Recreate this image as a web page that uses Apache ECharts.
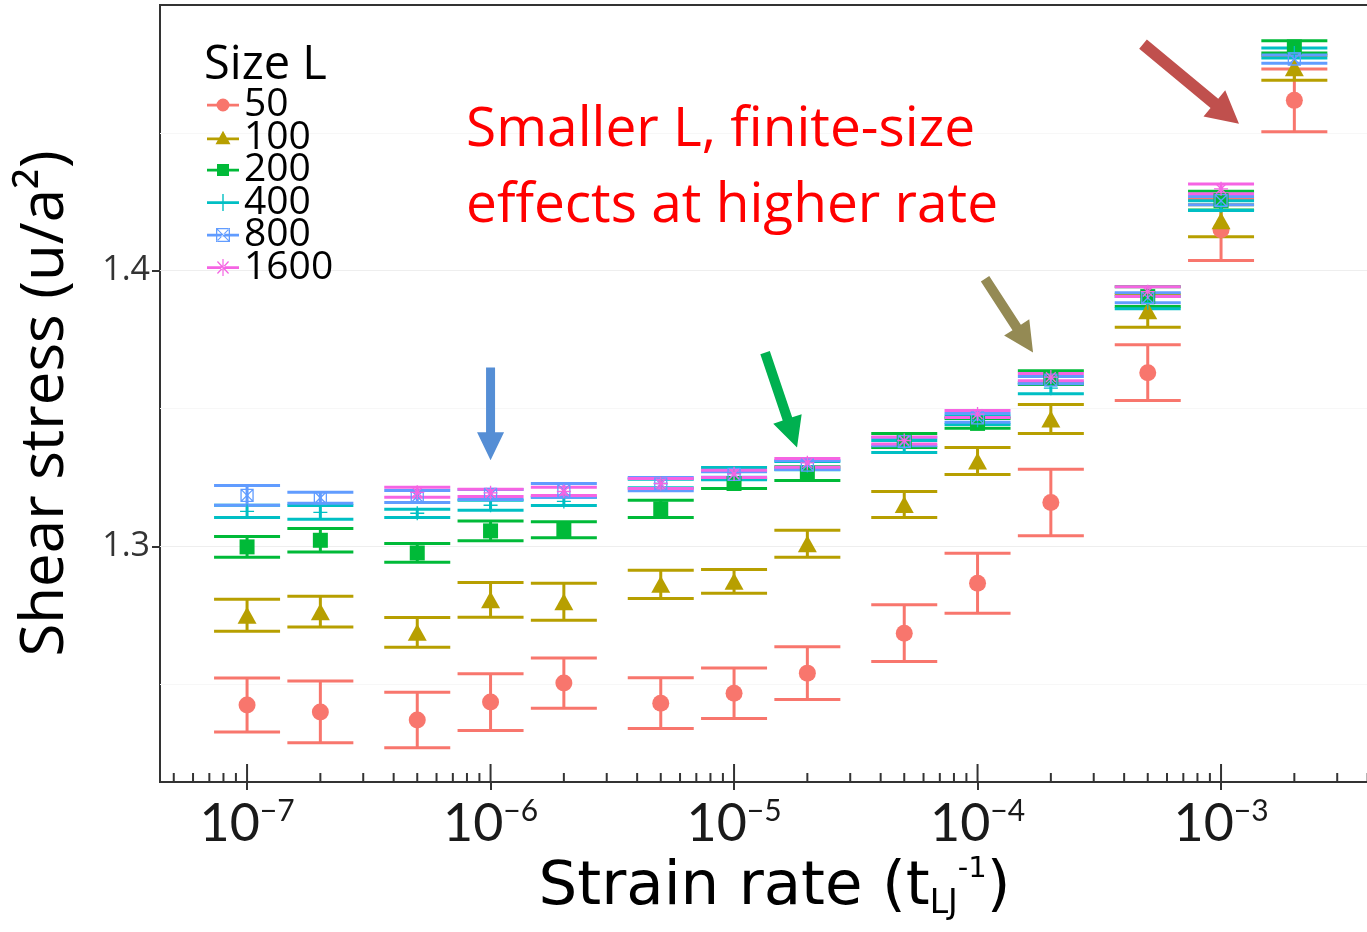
<!DOCTYPE html>
<html><head><meta charset="utf-8">
<script src="https://cdn.jsdelivr.net/npm/echarts@6/dist/echarts.min.js"></script>
<style>html,body{margin:0;padding:0;background:#fff}#c{width:1367px;height:932px}</style>
</head><body><div id="c"></div><script>
// ---- data ----
const rates = [1e-7, 2e-7, 5e-7, 1e-6, 2e-6, 5e-6, 1e-5, 2e-5, 5e-5, 1e-4, 2e-4, 5e-4, 1e-3, 2e-3];
const sizes = ['50', '100', '200', '400', '800', '1600'];
const stress50  = [1.2424, 1.2399, 1.2370, 1.2435, 1.2504, 1.2431, 1.2467, 1.2540, 1.2685, 1.2866, 1.3159, 1.3630, 1.4149, 1.4618];
const err50     = [0.0098, 0.0112, 0.0101, 0.0103, 0.0091, 0.0092, 0.0092, 0.0096, 0.0103, 0.0109, 0.0121, 0.0101, 0.0112, 0.0114];
const stress100 = [1.2750, 1.2763, 1.2688, 1.2806, 1.2799, 1.2862, 1.2873, 1.3009, 1.3152, 1.3310, 1.3462, 1.3855, 1.4181, 1.4736];
const err100    = [0.0058, 0.0056, 0.0054, 0.0063, 0.0067, 0.0051, 0.0043, 0.0049, 0.0047, 0.0049, 0.0053, 0.0060, 0.0058, 0.0045];
const stress200 = [1.2998, 1.3022, 1.2976, 1.3056, 1.3060, 1.3136, 1.3228, 1.3264, 1.3384, 1.3446, 1.3612, 1.3906, 1.4254, 1.4812];
const err200    = [0.0038, 0.0043, 0.0034, 0.0036, 0.0029, 0.0031, 0.0018, 0.0025, 0.0025, 0.0018, 0.0025, 0.0036, 0.0034, 0.0022];
const stress400 = [1.3127, 1.3123, 1.3120, 1.3149, 1.3163, 1.3228, 1.3264, 1.3293, 1.3362, 1.3457, 1.3574, 1.3884, 1.4236, 1.4790];
const err400    = [0.0022, 0.0025, 0.0015, 0.0018, 0.0015, 0.0015, 0.0022, 0.0015, 0.0022, 0.0015, 0.0020, 0.0022, 0.0018, 0.0018];
const stress800 = [1.3185, 1.3176, 1.3181, 1.3188, 1.3203, 1.3226, 1.3261, 1.3295, 1.3380, 1.3466, 1.3603, 1.3902, 1.4254, 1.4768];
const err800    = [0.0036, 0.0020, 0.0022, 0.0018, 0.0025, 0.0024, 0.0010, 0.0016, 0.0015, 0.0016, 0.0013, 0.0018, 0.0015, 0.0015];
const stress1600 = [null, null, 1.3196, 1.3194, 1.3199, 1.3228, 1.3263, 1.3303, 1.3384, 1.3480, 1.3614, 1.3924, 1.4297, null];
const err1600    = [null, null, 0.0018, 0.0013, 0.0015, 0.0018, 0.0013, 0.0016, 0.0013, 0.0013, 0.0013, 0.0018, 0.0018, null];
const xTickLabels = [1e-7, 1e-6, 1e-5, 1e-4, 1e-3];
const yTickLabels = [1.3, 1.4];
const annotation = ['Smaller L, finite-size', 'effects at higher rate'];
// annotation arrows (tail, tip) in data coordinates
const arrowTails = [[1e-6, 1.3649], [1.341e-5, 1.3703], [1.0735e-4, 1.3971], [4.782e-4, 1.4822]];
const arrowTips  = [[1e-6, 1.3312], [1.814e-5, 1.3359], [1.690e-4, 1.3703], [1.185e-3, 1.4533]];

// ---- styles ----
const FONT = 'Lato';
const FONT2 = 'Open Sans';
const colors = ['#F8766D', '#B79F00', '#00BA38', '#00BFC4', '#619CFF', '#F564E3'];
const arrowStyles = [
  {color: '#558ED5', sw: 4.5, hw: 13.5, hl: 28},
  {color: '#00B050', sw: 5, hw: 15, hl: 30},
  {color: '#948A54', sw: 5, hw: 15, hl: 30},
  {color: '#C0504D', sw: 6, hw: 17, hl: 32}
];
const xMin = 4.39e-8, xMax = 4.37e-3, yMin = 1.2145, yMax = 1.4964;
const allStress = [stress50, stress100, stress200, stress400, stress800, stress1600];
const allErr = [err50, err100, err200, err400, err800, err1600];

const symbols = [
  {symbol: 'circle', size: 17, fill: true},
  {symbol: 'triangle', size: [19, 17], fill: true},
  {symbol: 'rect', size: 15, fill: true},
  {symbol: 'path://M5,0V10M0,5H10', size: 14, fill: false},
  {symbol: 'path://M0,0H10V10H0ZM0,0L10,10M10,0L0,10', size: 12, fill: false},
  {symbol: 'path://M5,0V10M0,5H10M1.5,1.5L8.5,8.5M8.5,1.5L1.5,8.5', size: 14, fill: false}
];
const BAR = 'M0,8.8H32V11.4H0Z';
const legendIcons = [
  'path://' + BAR + 'M9.5,10A6.5,6.5 0 1 1 22.5,10A6.5,6.5 0 1 1 9.5,10Z',
  'path://' + BAR + 'M16,2L23.5,15.5H8.5Z',
  'path://' + BAR + 'M10,4H22V16H10Z',
  'path://' + BAR + 'M15.3,1.5H16.7V18.5H15.3Z',
  'path://' + BAR + 'M9,3H23V17H9ZM10.3,4.3V15.7H21.7V4.3ZM9.5,4.2L10.2,3.5L22.5,15.8L21.8,16.5ZM22.5,4.2L21.8,3.5L9.5,15.8L10.2,16.5Z',
  'path://' + BAR + 'M15.4,1.5H16.6V18.5H15.4ZM10,4.5L10.9,3.6L22,15.5L21.1,16.4ZM22,4.5L21.1,3.6L10,15.5L10.9,16.4Z'
];

// log tick positions (axis decoration)
const tickMultipliers = [1, 2, 3, 4, 5, 6, 7, 8, 9];
const tickDecades = [-8, -7, -6, -5, -4, -3];
const logTicks = [];
tickDecades.forEach(d => tickMultipliers.forEach(m => {
  const v = m * Math.pow(10, d);
  if (v >= xMin && v <= xMax) logTicks.push([v, m === 1 ? 1 : 0]);
}));
const vGrid = [];
tickDecades.forEach(d => { [d, d + 0.5].forEach(e => { const v = Math.pow(10, e); if (v > xMin && v < xMax) vGrid.push({xAxis: v, lineStyle: {color: Number.isInteger(e) ? '#eeeeee' : '#f7f7f7'}}); }); });
const hGrid = [1.25, 1.3, 1.35, 1.4, 1.45].map((v, i) => ({yAxis: v, lineStyle: {color: i % 2 ? '#eeeeee' : '#f7f7f7'}}));

const series = [];
series.push({
  type: 'line', data: [], silent: true, z: 1,
  markLine: {silent: true, z: 1, symbol: 'none', label: {show: false}, animation: false,
    lineStyle: {type: 'solid', width: 1}, data: vGrid.concat(hGrid)}
});
sizes.forEach((name, i) => {
  const data = [];
  rates.forEach((r, j) => { if (allStress[i][j] != null) data.push([r, allStress[i][j], allErr[i][j]]); });
  series.push({
    name, type: 'custom', z: 2, silent: true, data,
    encode: {x: 0, y: 1},
    itemStyle: {color: colors[i]},
    renderItem: (params, api) => {
      const x = api.value(0), y = api.value(1), e = api.value(2);
      const top = api.coord([x, y + e]), bot = api.coord([x, y - e]);
      const hw = 33;
      const st = {stroke: colors[i], lineWidth: 3, fill: null};
      return {type: 'group', children: [
        {type: 'line', shape: {x1: top[0], y1: top[1], x2: bot[0], y2: bot[1]}, style: st},
        {type: 'line', shape: {x1: top[0] - hw, y1: top[1], x2: top[0] + hw, y2: top[1]}, style: st},
        {type: 'line', shape: {x1: bot[0] - hw, y1: bot[1], x2: bot[0] + hw, y2: bot[1]}, style: st}
      ]};
    }
  });
});
sizes.forEach((name, i) => {
  const data = [];
  rates.forEach((r, j) => { if (allStress[i][j] != null) data.push([r, allStress[i][j]]); });
  const s = symbols[i];
  series.push({
    name, type: 'scatter', z: 3, silent: true, data,
    symbol: s.symbol, symbolSize: s.size,
    itemStyle: s.fill ? {color: colors[i], opacity: 1} : {color: 'transparent', borderColor: colors[i], borderWidth: 1.3, opacity: 1}
  });
});
// inner log ticks
series.push({
  type: 'custom', silent: true, z: 4, data: logTicks, encode: {x: 0},
  renderItem: (params, api) => {
    const cs = params.coordSys;
    const x = api.coord([api.value(0), yMin])[0];
    const b = cs.y + cs.height;
    const len = api.value(1) ? 18 : 9;
    return {type: 'line', shape: {x1: x, y1: b, x2: x, y2: b - len}, style: {stroke: '#333', lineWidth: 2}};
  }
});
// arrows
series.push({
  type: 'custom', silent: true, z: 5,
  data: arrowTails.map((t, i) => [t[0], t[1], arrowTips[i][0], arrowTips[i][1]]),
  encode: {x: [0, 2], y: [1, 3]},
  renderItem: (params, api) => {
    const st = arrowStyles[params.dataIndex];
    const p1 = api.coord([api.value(0), api.value(1)]);
    const p2 = api.coord([api.value(2), api.value(3)]);
    const dx = p2[0] - p1[0], dy = p2[1] - p1[1];
    const L = Math.sqrt(dx * dx + dy * dy);
    const ux = dx / L, uy = dy / L, nx = -uy, ny = ux;
    const bx = p2[0] - ux * st.hl, by = p2[1] - uy * st.hl;
    const pts = [
      [p1[0] + nx * st.sw, p1[1] + ny * st.sw],
      [bx + nx * st.sw, by + ny * st.sw],
      [bx + nx * st.hw, by + ny * st.hw],
      [p2[0], p2[1]],
      [bx - nx * st.hw, by - ny * st.hw],
      [bx - nx * st.sw, by - ny * st.sw],
      [p1[0] - nx * st.sw, p1[1] - ny * st.sw]
    ];
    return {type: 'polygon', shape: {points: pts}, style: {fill: st.color}};
  }
});

const chart = echarts.init(document.getElementById('c'), null, {renderer: 'canvas'});
chart.setOption({
  animation: false,
  backgroundColor: '#ffffff',
  grid: {show: true, left: 160, top: 5, right: -10, bottom: 150, outerBoundsMode: 'none', containLabel: false,
    borderColor: '#333', borderWidth: 2, backgroundColor: 'transparent'},
  xAxis: {
    type: 'log', logBase: 10, min: xMin, max: xMax,
    axisLine: {show: true, onZero: false, lineStyle: {color: '#333', width: 2}},
    axisTick: {show: true, length: 8, lineStyle: {color: '#333', width: 2}, customValues: xTickLabels},
    splitLine: {show: false}, minorTick: {show: false},
    axisLabel: {
      customValues: xTickLabels, margin: 14,
      formatter: v => '{b|10}{s|\u2212' + Math.round(-Math.log10(v)) + '}',
      rich: {
        b: {fontSize: 52, fontFamily: FONT, color: '#1a1a1a', lineHeight: 56},
        s: {fontSize: 30, fontFamily: FONT, color: '#1a1a1a', verticalAlign: 'top', lineHeight: 30}
      }
    },
    name: '{m|Strain rate (t}{sub|LJ}{sup|-1}{m|)}',
    nameLocation: 'middle', nameGap: 70,
    nameTextStyle: {
      padding: [0, 0, 0, 12],
      rich: {
        m: {fontSize: 61, fontFamily: 'DejaVu Sans', color: '#000', lineHeight: 66},
        sub: {fontSize: 33, fontFamily: 'DejaVu Sans', color: '#000', verticalAlign: 'bottom', lineHeight: 24},
        sup: {fontSize: 29, fontFamily: 'DejaVu Sans', color: '#000', verticalAlign: 'top', lineHeight: 30}
      }
    }
  },
  yAxis: {
    type: 'value', min: yMin, max: yMax,
    axisLine: {show: true, lineStyle: {color: '#333', width: 2}},
    axisTick: {show: true, length: 8, lineStyle: {color: '#333', width: 2}, customValues: yTickLabels},
    splitLine: {show: false},
    axisLabel: {customValues: yTickLabels, fontSize: 34, fontFamily: FONT2, color: '#333', margin: 10, formatter: v => v.toFixed(1)},
    name: 'Shear stress (u/a\u00B2)', nameLocation: 'middle', nameGap: 84,
    nameTextStyle: {fontSize: 60, fontFamily: FONT2, color: '#000', padding: [0, 20, 0, 0]}
  },
  legend: {
    z: 20,
    left: 202, top: 80.5, orient: 'vertical', selectedMode: false,
    itemWidth: 32, itemHeight: 20, itemGap: -6.5,
    textStyle: {fontSize: 39, fontFamily: FONT2, color: '#000', lineHeight: 37},
    data: sizes.map((n, i) => ({name: n, icon: legendIcons[i], itemStyle: {color: colors[i], borderWidth: 0}}))
  },
  graphic: [
    {type: 'text', left: 204, top: 42, z: 100, silent: true, style: {text: 'Size L', fontSize: 47, fontFamily: FONT2, fill: '#000'}},
    {type: 'text', left: 466, top: 103, z: 100, silent: true, style: {text: annotation[0], fontSize: 55, fontFamily: FONT2, fill: '#FF0000'}},
    {type: 'text', left: 466, top: 179, z: 100, silent: true, style: {text: annotation[1], fontSize: 55, fontFamily: FONT2, fill: '#FF0000'}}
  ],
  series
});
</script></body></html>
